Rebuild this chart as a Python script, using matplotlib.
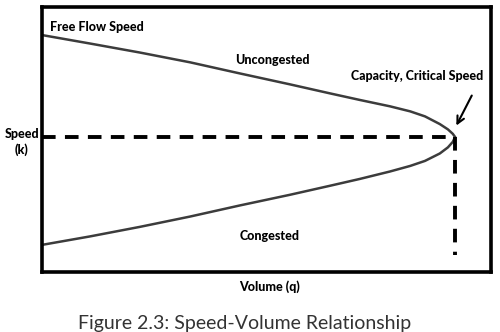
import matplotlib
matplotlib.use("Agg")
import matplotlib.pyplot as plt

# Data (arbitrary units, 0-100)
volume = [0, 10.7, 21.8, 33.0, 44.1, 55.2, 64.1, 70.8, 77.5, 82.0, 85.3, 88.6, 90.4, 91.5, 92.0]
speed_uncongested = [89.4, 86.2, 82.8, 79.1, 74.9, 70.8, 67.4, 64.9, 62.5, 60.6, 58.7, 55.8, 53.8, 52.1, 50.9]
speed_congested = [10.2, 13.4, 17.0, 20.9, 25.1, 29.1, 32.5, 35.1, 37.9, 40.0, 41.9, 44.7, 47.0, 49.1, 50.9]
capacity_volume = 92.0
critical_speed = 51.0
vertical_bottom = 6.4

plt.rcParams['font.family'] = ['Lato', 'DejaVu Sans']

fig = plt.figure(figsize=(5, 3.32), dpi=100)
ax = fig.add_axes([0.084, 0.181, 0.898, 0.798])
ax.set_xlim(0, 100)
ax.set_ylim(0, 100)
ax.set_xticks([])
ax.set_yticks([])
for s in ax.spines.values():
    s.set_linewidth(2.6)
    s.set_color('black')

ax.plot(volume, speed_uncongested, color='#3c3c3c', lw=1.8, solid_capstyle='round',
        solid_joinstyle='round')
ax.plot(volume, speed_congested, color='#3c3c3c', lw=1.8, solid_capstyle='round',
        solid_joinstyle='round')

ax.plot([0, capacity_volume], [critical_speed, critical_speed], color='black', lw=2.8,
        dashes=(3.5, 2.4))
ax.plot([capacity_volume, capacity_volume], [critical_speed, vertical_bottom], color='black',
        lw=2.8, dashes=(3.5, 2.4))

fs = 9.0
fw = 'black'
ax.text(1.8, 92.5, 'Free Flow Speed', fontsize=fs, fontweight=fw, ha='left', va='center')
ax.text(51.2, 80.0, 'Uncongested', fontsize=fs, fontweight=fw, ha='center', va='center')
ax.text(83.5, 74.0, 'Capacity, Critical Speed', fontsize=fs, fontweight=fw,
        ha='center', va='center')
ax.text(50.6, 13.6, 'Congested', fontsize=fs, fontweight=fw, ha='center', va='center')
ax.annotate('', xy=(92.0, 54.3), xytext=(96.0, 67.5),
            arrowprops=dict(arrowstyle='->', color='black', lw=1.5, mutation_scale=13))

fig.text(39 / 500, 1 - 142 / 332, 'Speed\n(k)', fontsize=fs, fontweight=fw,
         ha='right', va='center', linespacing=1.25, multialignment='center')
fig.text(0.538, 45 / 332, 'Volume (q)', fontsize=fs, fontweight=fw, ha='center', va='center')
fig.text(0.49, 8 / 332, 'Figure 2.3: Speed-Volume Relationship', fontsize=14,
         color='#333333', ha='center', va='center')

fig.savefig('out.png', dpi=100)
